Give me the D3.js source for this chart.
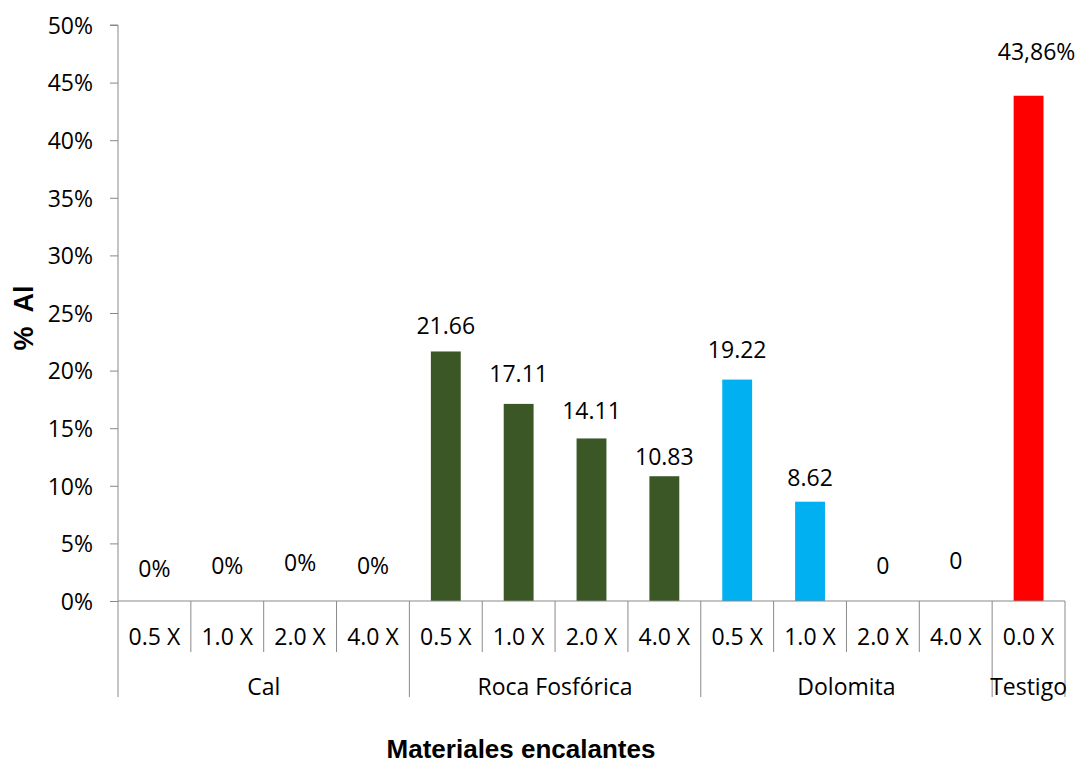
<!DOCTYPE html>
<html>
<head>
<meta charset="utf-8">
<script src="https://cdn.jsdelivr.net/npm/d3@7"></script>
<style>
  html, body { margin: 0; padding: 0; background: #fff; }
  text { font-family: "Open Sans", sans-serif; fill: #000; }
</style>
</head>
<body>
<svg id="chart" width="1081" height="763"></svg>
<script>
// chart data
const groups = ["Cal", "Roca Fosfórica", "Dolomita", "Testigo"];
const doses = ["0.5 X", "1.0 X", "2.0 X", "4.0 X", "0.5 X", "1.0 X", "2.0 X", "4.0 X", "0.5 X", "1.0 X", "2.0 X", "4.0 X", "0.0 X"];
const groupOf = [0, 0, 0, 0, 1, 1, 1, 1, 2, 2, 2, 2, 3];
const values = [0, 0, 0, 0, 21.66, 17.11, 14.11, 10.83, 19.22, 8.62, 0, 0, 43.86];
const valueLabels = ["0%", "0%", "0%", "0%", "21.66", "17.11", "14.11", "10.83", "19.22", "8.62", "0", "0", "43,86%"];
const yTicks = [0, 5, 10, 15, 20, 25, 30, 35, 40, 45, 50];

// styling / layout (not data)
const groupColors = ["#3a5725", "#3a5725", "#00b0f0", "#ff0000"];
const labelRise = [24, 27, 30, 27, 17.5, 22, 19, 11, 22, 15.5, 27, 32, 36]; // label baseline above bar top
const labelShift = [0, 0, 0, 0, 0, 0, 0, 0, 0, 0, 0, 0, 8];
const axisColor = "#898989";

const svg = d3.select("#chart");
const plotLeft = 118, plotRight = 1065, plotTop = 25, plotBottom = 601;

const x = d3.scaleBand()
  .domain(d3.range(doses.length))
  .range([plotLeft, plotRight])
  .paddingInner(0.59)
  .paddingOuter(0.295);

const y = d3.scaleLinear().domain([0, 50]).range([plotBottom, plotTop]);

const edge = (i) => x(i) + x.bandwidth() / 2 - x.step() / 2; // left edge of a category slot

// y axis
const yAxis = svg.append("g").attr("transform", "translate(" + plotLeft + ",0)")
  .call(d3.axisLeft(y).tickValues(yTicks).tickSize(8).tickPadding(17).tickFormat((d) => d + "%"));
yAxis.selectAll("path, line").attr("stroke", axisColor);
yAxis.select(".domain").attr("d", "M-8," + y(50) + "H0V" + plotBottom);
yAxis.selectAll("text")
  .style("font-family", '"Open Sans", sans-serif')
  .style("font-size", "23px")
  .attr("fill", "#000")
  .attr("dy", "0.36em");

// bars
svg.append("g").selectAll("rect")
  .data(values)
  .enter().append("rect")
  .attr("x", (d, i) => x(i))
  .attr("width", x.bandwidth())
  .attr("y", (d) => y(d))
  .attr("height", (d) => plotBottom - y(d))
  .attr("fill", (d, i) => groupColors[groupOf[i]]);

// x axis line
svg.append("line")
  .attr("x1", plotLeft).attr("x2", plotRight)
  .attr("y1", plotBottom).attr("y2", plotBottom)
  .attr("stroke", axisColor);

// separators: short between doses, long at group boundaries
const sepIdx = d3.range(doses.length + 1);
svg.append("g").selectAll("line")
  .data(sepIdx)
  .enter().append("line")
  .attr("x1", (i) => i < doses.length ? edge(i) : plotRight)
  .attr("x2", (i) => i < doses.length ? edge(i) : plotRight)
  .attr("y1", plotBottom)
  .attr("y2", (i) => (i === 0 || i === doses.length || groupOf[i] !== groupOf[i - 1]) ? 697 : 652)
  .attr("stroke", axisColor);

// dose labels
svg.append("g").selectAll("text")
  .data(doses)
  .enter().append("text")
  .attr("x", (d, i) => x(i) + x.bandwidth() / 2)
  .attr("y", 645)
  .attr("text-anchor", "middle")
  .style("font-size", "23px")
  .text((d) => d);

// group labels
svg.append("g").selectAll("text")
  .data(groups)
  .enter().append("text")
  .attr("x", (g, gi) => {
    const idx = groupOf.map((v, i) => v === gi ? i : -1).filter((i) => i >= 0);
    const a = edge(idx[0]);
    const b = idx[idx.length - 1] + 1 < doses.length ? edge(idx[idx.length - 1] + 1) : plotRight;
    return (a + b) / 2;
  })
  .attr("y", 695)
  .attr("text-anchor", "middle")
  .style("font-size", "23px")
  .text((d) => d);

// value labels
svg.append("g").selectAll("text")
  .data(values)
  .enter().append("text")
  .attr("x", (d, i) => x(i) + x.bandwidth() / 2 + labelShift[i])
  .attr("y", (d, i) => y(d) - labelRise[i])
  .attr("text-anchor", "middle")
  .style("font-size", "23px")
  .text((d, i) => valueLabels[i]);

// axis titles
svg.append("text")
  .attr("transform", "translate(33,318) rotate(-90)")
  .attr("text-anchor", "middle")
  .attr("xml:space", "preserve")
  .style("font-family", '"Liberation Sans", Arial, sans-serif')
  .style("font-weight", "bold")
  .style("font-size", "27px")
  .style("white-space", "pre")
  .text("%  Al");

svg.append("text")
  .attr("x", 521)
  .attr("y", 758)
  .attr("text-anchor", "middle")
  .style("font-family", '"Liberation Sans", Arial, sans-serif')
  .style("font-weight", "bold")
  .style("font-size", "26px")
  .text("Materiales encalantes");
</script>
</body>
</html>
